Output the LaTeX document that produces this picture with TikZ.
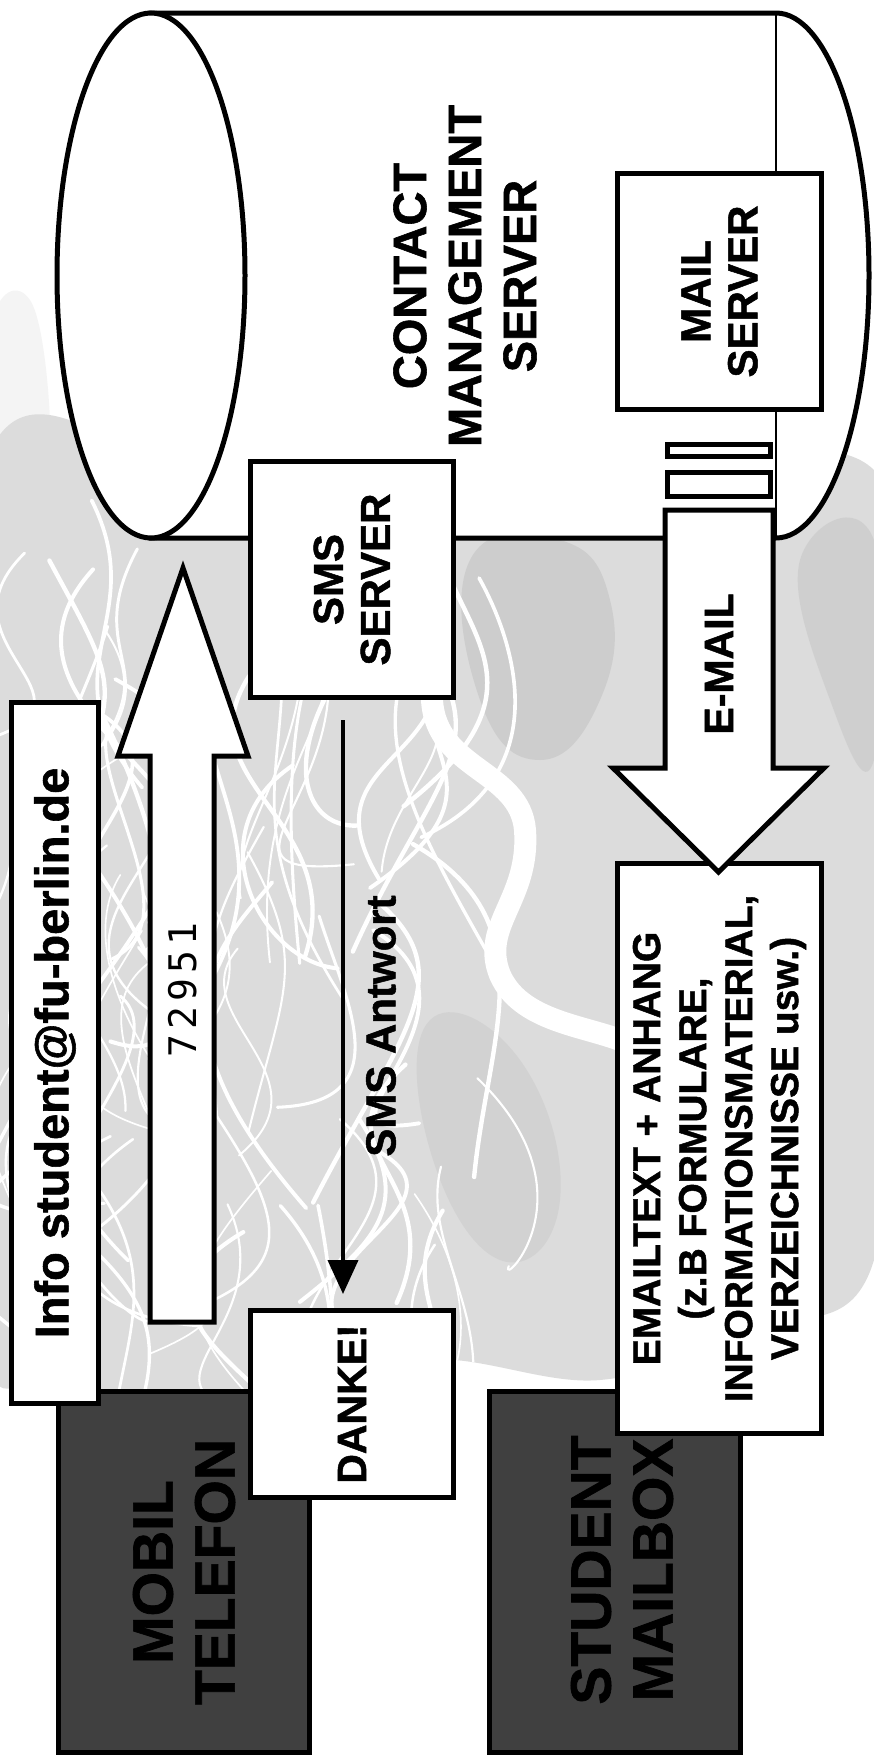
\documentclass[tikz,border=0pt]{standalone}
\usepackage{fontspec}
\setmainfont{Liberation Sans}[BoldFeatures={FakeBold=1.2}]
\newfontfamily\digitfont[LetterSpace=14]{DejaVu Sans Mono}
\usetikzlibrary{arrows.meta}
\definecolor{darkgr}{HTML}{404040}
\definecolor{bggray}{HTML}{DCDCDC}
\definecolor{bgdark}{HTML}{C4C4C4}
\begin{document}
\begin{tikzpicture}[x=1pt,y=-1pt,
  box/.style={draw=black, line width=5pt, fill=white, inner sep=0pt},
  darkbox/.style={draw=black, line width=5pt, fill=darkgr, inner sep=0pt},
  lbl/.style={rotate=90, align=center, inner sep=0pt, text=black},
  blockarrow/.style={draw=black, line width=5pt, fill=white, line join=miter},
  cyl/.style={draw=black, line width=5pt, fill=white}
]
\useasboundingbox (0,0) rectangle (874,1764);
\fill[white] (0,0) rectangle (874,1764);
% ---------- background (grey photo with white roots) ----------
\fill[bggray] plot[smooth cycle, tension=0.6] coordinates {(-20,480) (200,470) (500,520) (874,470) (890,900) (874,1260) (760,1330) (600,1380) (420,1360) (250,1420) (60,1380) (-20,1300)};
\fill[bggray, opacity=0.3] plot[smooth cycle, tension=0.7] coordinates {(-10,330) (30,300) (50,420) (40,520) (-10,520)};
\fill[bgdark, opacity=0.6] plot[smooth cycle, tension=0.8] coordinates {(470,560) (560,540) (610,600) (600,700) (540,760) (480,700)};
\fill[bgdark, opacity=0.5] plot[smooth cycle, tension=0.8] coordinates {(800,560) (874,540) (874,760) (830,700)};
\fill[bgdark, opacity=0.4] plot[smooth cycle, tension=0.8] coordinates {(430,1020) (520,1060) (560,1200) (500,1260) (430,1150)};
\begin{scope}
\clip plot[smooth cycle, tension=0.6] coordinates {(-20,480) (200,470) (500,520) (874,470) (890,900) (874,1260) (760,1330) (600,1380) (420,1360) (250,1420) (60,1380) (-20,1300)};
\pgfmathsetseed{4242}
\foreach \i in {1,...,80}{
  \pgfmathsetmacro{\rxa}{10+470*rnd}
  \pgfmathsetmacro{\rya}{500+760*rnd}
  \pgfmathsetmacro{\rxb}{\rxa+140*rand}
  \pgfmathsetmacro{\ryb}{\rya+50+90*rnd}
  \pgfmathsetmacro{\rxc}{\rxa+140*rand}
  \pgfmathsetmacro{\ryc}{\rya+110+110*rnd}
  \pgfmathsetmacro{\rxd}{\rxa+70*rand}
  \pgfmathsetmacro{\ryd}{\rya+180+170*rnd}
  \pgfmathsetmacro{\rlw}{1.5+3*rnd}
  \draw[white, line width=\rlw pt, line cap=round] (\rxa,\rya) .. controls (\rxb,\ryb) and (\rxc,\ryc) .. (\rxd,\ryd);
}
\draw[white, line width=22pt, line cap=round] (432,700) .. controls (436,770) and (520,770) .. (525,830) .. controls (530,900) and (480,925) .. (500,975) .. controls (520,1020) and (580,1025) .. (620,1040);
\end{scope}
% ---------- contact management server (cylinder) ----------
\draw[cyl] (151,13) -- (776,13) arc[start angle=90, end angle=-90, x radius=93pt, y radius=262.5pt] -- (151,538) -- cycle;
\draw[line width=1.5pt] (776,13) -- (776,538);
\draw[cyl] (151,275.5) ellipse[x radius=94pt, y radius=262.5pt];
\coordinate (cms) at (465,276);
\node[lbl, font={\fontsize{47}{55}\selectfont\bfseries}] (cmstext) at (cms) {CONTACT\\MANAGEMENT\\SERVER};
% ---------- mail server ----------
\node[box, minimum width=204pt, minimum height=236pt] (mail) at (719.5,291.5) {};
\node[lbl, font={\fontsize{42}{47}\selectfont\bfseries}] (mailtext) at (mail.center) {MAIL\\SERVER};
\node[box, minimum width=103pt, minimum height=12pt] (slot1) at (719,450.5) {};
\node[box, minimum width=103pt, minimum height=24pt] (slot2) at (719,484.5) {};
% ---------- sms server ----------
\node[box, minimum width=203pt, minimum height=236pt] (sms) at (352,579.5) {};
\node[lbl, font={\fontsize{42}{47}\selectfont\bfseries}] (smstext) at (sms.center) {SMS\\SERVER};
% ---------- dark boxes ----------
\node[darkbox, minimum width=251pt, minimum height=361pt] (mobil) at (184,1572) {};
\node[lbl, font={\fontsize{57}{62}\selectfont\bfseries}] (mobiltext) at (mobil.center) {MOBIL\\TELEFON};
\node[darkbox, minimum width=251pt, minimum height=361pt] (student) at (615,1572) {};
\node[lbl, font={\fontsize{57}{62}\selectfont\bfseries}] (studenttext) at (622,1570) {STUDENT\\MAILBOX};
% ---------- e-mail block arrow and e-mail content ----------
\node[box, minimum width=204pt, minimum height=570pt] (emailtext) at (719.5,1148.5) {};
\node[lbl, font={\fontsize{39}{46}\selectfont\bfseries}] (emailtextlbl) at (emailtext.center) {EMAILTEXT + ANHANG\\(z.B FORMULARE,\\INFORMATIONSMATERIAL,\\VERZEICHNISSE usw.)};
\draw[blockarrow] (665,510) -- (773,510) -- (773,768) -- (824,768) -- (718.5,872) -- (613,768) -- (665,768) -- cycle;
\node[lbl, font={\fontsize{41}{46}\selectfont\bfseries}] (emaillbl) at (719,664) {E-MAIL};
% ---------- 72951 block arrow ----------
\draw[blockarrow] (150,1322) -- (214,1322) -- (214,756) -- (248,756) -- (183,568) -- (118,756) -- (150,756) -- cycle;
\node[lbl, font={\fontsize{38}{44}\selectfont\digitfont}] (code) at (183,990) {72951};
% ---------- info and danke ----------
\node[box, minimum width=87pt, minimum height=701pt] (info) at (55,1053) {};
\node[lbl, font={\fontsize{47}{52}\selectfont\bfseries}] (infotext) at (info.center) {Info student@fu-berlin.de};
\node[box, minimum width=203pt, minimum height=187pt] (danke) at (352,1404) {};
\node[lbl, font={\fontsize{41}{46}\selectfont\bfseries}] (danketext) at (danke.center) {DANKE!};
% ---------- SMS Antwort ----------
\coordinate (antstart) at (343,720);
\draw[line width=4pt, -{Triangle[length=34pt,width=30pt]}, shorten >=14pt] (antstart) -- (antstart |- danke.north);
\node[lbl, font={\fontsize{42}{46}\selectfont\bfseries}] (antwort) at (381,1026) {SMS Antwort};
\end{tikzpicture}
\end{document}
